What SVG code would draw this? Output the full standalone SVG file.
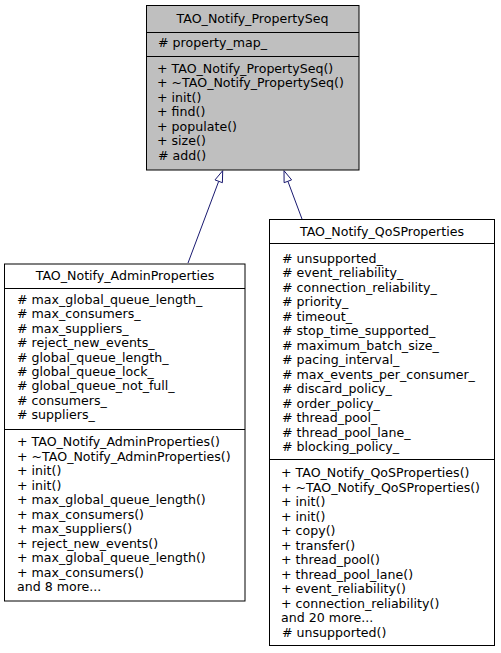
<svg xmlns="http://www.w3.org/2000/svg" width="501" height="653" viewBox="0 0 501 653">
<style>
text{font-family:"DejaVu Sans","Liberation Sans",sans-serif;font-size:12.6px;fill:#000}
.t{text-anchor:middle}
.box{stroke:#000;stroke-width:1}
.sep{stroke:#000;stroke-width:1}
.edge{stroke:#191970;stroke-width:1;fill:none}
.head{stroke:#191970;stroke-width:1;fill:#fff}
</style>
<rect width="501" height="653" fill="#fff"/>
<g id="edges">
<path class="edge" d="M188,263 L218.7,181.3"/>
<polygon class="head" points="222.7,170.7 222.4,182.7 215,179.9"/>
<path class="edge" d="M302,219 L287.9,181.3"/>
<polygon class="head" points="284,170.7 291.6,179.9 284.1,182.7"/>
</g>
<g id="PropertySeq">
<rect class="box" x="146.5" y="5.5" width="212.5" height="164.5" fill="#bfbfbf"/>
<line class="sep" x1="146.5" y1="32.5" x2="359" y2="32.5"/>
<line class="sep" x1="146.5" y1="56.5" x2="359" y2="56.5"/>
<text class="t" x="252.5" y="22.5">TAO_Notify_PropertySeq</text>
<text x="158" y="47"># property_map_</text>
<text x="157" y="72.5">+ TAO_Notify_PropertySeq()</text>
<text x="157" y="87">+ ~TAO_Notify_PropertySeq()</text>
<text x="157" y="101.5">+ init()</text>
<text x="157" y="116">+ find()</text>
<text x="157" y="130.5">+ populate()</text>
<text x="157" y="145">+ size()</text>
<text x="158" y="159.5"># add()</text>
</g>
<g id="AdminProperties">
<rect class="box" x="4.5" y="264" width="240.5" height="337" fill="#fff"/>
<line class="sep" x1="4.5" y1="288.5" x2="245" y2="288.5"/>
<line class="sep" x1="4.5" y1="429.5" x2="245" y2="429.5"/>
<text class="t" x="125" y="279.5">TAO_Notify_AdminProperties</text>
<text x="17" y="304"># max_global_queue_length_</text>
<text x="17" y="318.4"># max_consumers_</text>
<text x="17" y="332.8"># max_suppliers_</text>
<text x="17" y="347.2"># reject_new_events_</text>
<text x="17" y="361.6"># global_queue_length_</text>
<text x="17" y="376"># global_queue_lock_</text>
<text x="17" y="390.4"># global_queue_not_full_</text>
<text x="17" y="404.8"># consumers_</text>
<text x="17" y="419.2"># suppliers_</text>
<text x="17" y="446">+ TAO_Notify_AdminProperties()</text>
<text x="17" y="460.5">+ ~TAO_Notify_AdminProperties()</text>
<text x="17" y="475">+ init()</text>
<text x="17" y="489.5">+ init()</text>
<text x="17" y="504">+ max_global_queue_length()</text>
<text x="17" y="518.5">+ max_consumers()</text>
<text x="17" y="533">+ max_suppliers()</text>
<text x="17" y="547.5">+ reject_new_events()</text>
<text x="17" y="562">+ max_global_queue_length()</text>
<text x="17" y="576.5">+ max_consumers()</text>
<text x="17" y="591">and 8 more...</text>
</g>
<g id="QoSProperties">
<rect class="box" x="269.5" y="219.5" width="225" height="426" fill="#fff"/>
<line class="sep" x1="269.5" y1="243.5" x2="494.5" y2="243.5"/>
<line class="sep" x1="269.5" y1="459.5" x2="494.5" y2="459.5"/>
<text class="t" x="382" y="236">TAO_Notify_QoSProperties</text>
<text x="282" y="262.5"># unsupported_</text>
<text x="282" y="277"># event_reliability_</text>
<text x="282" y="291.5"># connection_reliability_</text>
<text x="282" y="306"># priority_</text>
<text x="282" y="320.5"># timeout_</text>
<text x="282" y="335"># stop_time_supported_</text>
<text x="282" y="349.5"># maximum_batch_size_</text>
<text x="282" y="364"># pacing_interval_</text>
<text x="282" y="378.5"># max_events_per_consumer_</text>
<text x="282" y="393"># discard_policy_</text>
<text x="282" y="407.5"># order_policy_</text>
<text x="282" y="422"># thread_pool_</text>
<text x="282" y="436.5"># thread_pool_lane_</text>
<text x="282" y="451"># blocking_policy_</text>
<text x="281" y="477.3">+ TAO_Notify_QoSProperties()</text>
<text x="281" y="491.8">+ ~TAO_Notify_QoSProperties()</text>
<text x="281" y="506.3">+ init()</text>
<text x="281" y="520.8">+ init()</text>
<text x="281" y="535.3">+ copy()</text>
<text x="281" y="549.8">+ transfer()</text>
<text x="281" y="564.3">+ thread_pool()</text>
<text x="281" y="578.8">+ thread_pool_lane()</text>
<text x="281" y="593.3">+ event_reliability()</text>
<text x="281" y="607.8">+ connection_reliability()</text>
<text x="281" y="622.3">and 20 more...</text>
<text x="282" y="636.8"># unsupported()</text>
</g>
</svg>
